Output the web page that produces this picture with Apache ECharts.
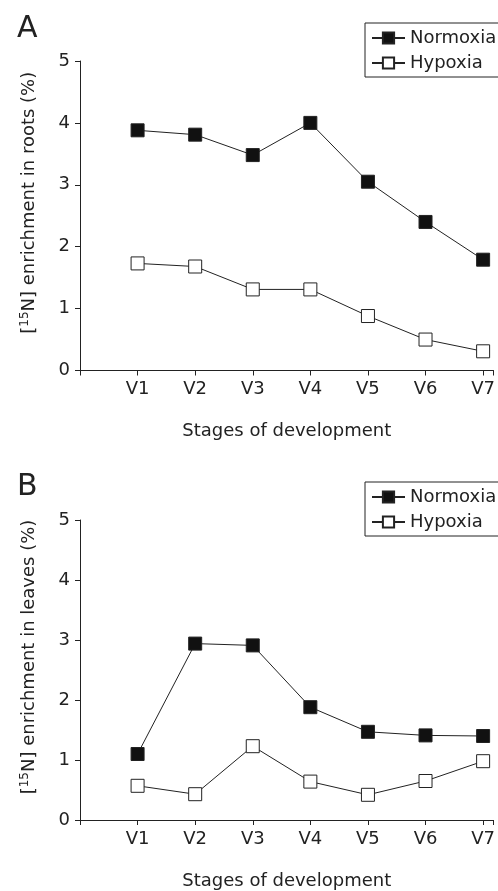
<!DOCTYPE html>
<html>
<head>
<meta charset="utf-8">
<script src="https://cdn.jsdelivr.net/npm/echarts@6/dist/echarts.min.js"></script>
<style>
  html, body { margin: 0; padding: 0; background: #fff; }
  #chart { width: 498px; height: 891px; }
</style>
</head>
<body>
<div id="chart"></div>
<script>
// data
var stages = ['V1', 'V2', 'V3', 'V4', 'V5', 'V6', 'V7'];
var rootsNormoxia = [3.88, 3.81, 3.48, 4.00, 3.05, 2.40, 1.79];
var rootsHypoxia = [1.73, 1.68, 1.31, 1.31, 0.88, 0.50, 0.31];
var leavesNormoxia = [1.10, 2.94, 2.91, 1.88, 1.47, 1.41, 1.40];
var leavesHypoxia = [0.57, 0.43, 1.23, 0.64, 0.42, 0.65, 0.98];
var yMin = 0, yMax = 5, yStep = 1;

var ink = '#222';
var font = 'DejaVu Sans';

function pts(vals) {
    return stages.map(function (s, i) { return [i + 1, vals[i]]; });
}

function xAxis(idx) {
    return {
        type: 'value', gridIndex: idx, min: 0, max: 7.18, interval: 1,
        name: 'Stages of development', nameLocation: 'middle', nameGap: 52,
        nameTextStyle: { color: ink, fontSize: 18, fontFamily: font },
        axisLine: { lineStyle: { color: ink, width: 1 } },
        axisTick: { length: 5, lineStyle: { color: ink } },
        axisLabel: {
            color: ink, fontSize: 18, fontFamily: font, margin: 10,
            formatter: function (v) { return stages[v - 1] || ''; }
        },
        splitLine: { show: false }
    };
}

function yAxis(idx, label) {
    return {
        type: 'value', gridIndex: idx, min: yMin, max: yMax, interval: yStep,
        name: '[{sup|15}N] enrichment in ' + label + ' (%)',
        nameLocation: 'middle', nameGap: 40,
        nameTextStyle: {
            color: ink, fontSize: 18, fontFamily: font, padding: [0, 0, 0, 26],
            rich: { sup: { fontSize: 12, fontFamily: font, color: ink, padding: [0, 0, 9, 0] } }
        },
        axisLine: { show: true, lineStyle: { color: ink, width: 1 } },
        axisTick: { show: true, length: 5, lineStyle: { color: ink } },
        axisLabel: { color: ink, fontSize: 18, fontFamily: font, margin: 10 },
        splitLine: { show: false }
    };
}

function legend(top) {
    return {
        orient: 'vertical', left: 365, top: top,
        data: ['Normoxia', 'Hypoxia'],
        itemWidth: 33, itemHeight: 14, itemGap: 7,
        padding: [6, 20, 5, 6],
        borderColor: ink, borderWidth: 1,
        textStyle: { color: ink, fontSize: 18, fontFamily: font }
    };
}

function line(name, idx, vals, filled) {
    return {
        name: name, type: 'line', xAxisIndex: idx, yAxisIndex: idx,
        data: pts(vals),
        symbol: 'rect', symbolSize: 13,
        lineStyle: { color: ink, width: 1 },
        itemStyle: { color: filled ? '#111' : '#fff', borderColor: ink, borderWidth: 1 },
        animation: false
    };
}

var myChart = echarts.init(document.getElementById('chart'));
var option = {
    backgroundColor: '#fff',
    title: [
        { text: 'A', left: 17, top: 14, padding: 0, textStyle: { fontSize: 30, fontWeight: 'normal', fontFamily: font, color: ink } },
        { text: 'B', left: 17, top: 472, padding: 0, textStyle: { fontSize: 30, fontWeight: 'normal', fontFamily: font, color: ink } }
    ],
    legend: [legend(23), legend(482)],
    grid: [
        { left: 80, right: 0, top: 61, bottom: 520.5 },
        { left: 80, right: 0, top: 520, bottom: 64.3 }
    ],
    xAxis: [xAxis(0), xAxis(1)],
    yAxis: [yAxis(0, 'roots'), yAxis(1, 'leaves')],
    series: [
        line('Normoxia', 0, rootsNormoxia, true),
        line('Hypoxia', 0, rootsHypoxia, false),
        line('Normoxia', 1, leavesNormoxia, true),
        line('Hypoxia', 1, leavesHypoxia, false)
    ]
};
myChart.setOption(option);
</script>
</body>
</html>
